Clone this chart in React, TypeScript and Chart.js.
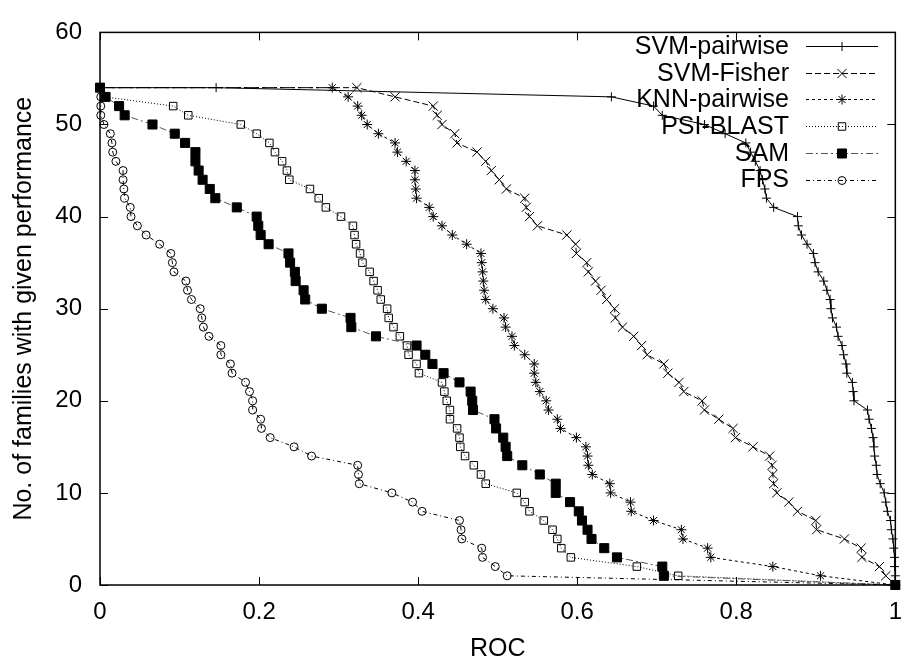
import React, { useEffect, useRef } from "react";
import { Chart, registerables } from "chart.js";

Chart.register(...registerables);

const xTicks = [0, 0.2, 0.4, 0.6, 0.8, 1];
const yTicks = [0, 10, 20, 30, 40, 50, 60];

const seriesNames = ["SVM-pairwise", "SVM-Fisher", "KNN-pairwise", "PSI-BLAST", "SAM", "FPS"];

// number of families (y) for each point
const counts = [54, 54, 53, 52, 51, 50, 49, 48, 47, 46, 45, 44, 43, 42, 41, 40, 39, 38, 37, 36, 35, 34, 33, 32, 31, 30, 29, 28, 27, 26, 25, 24, 23, 22, 21, 20, 19, 18, 17, 16, 15, 14, 13, 12, 11, 10, 9, 8, 7, 6, 5, 4, 3, 2, 1, 0];

// ROC values (x) for each series
const svmPairwise = [0, 0.146, 0.643, 0.696, 0.707, 0.760, 0.786, 0.812, 0.818, 0.824, 0.830, 0.833, 0.836, 0.838, 0.847, 0.877, 0.878, 0.882, 0.889, 0.897, 0.899, 0.903, 0.910, 0.914, 0.918, 0.919, 0.921, 0.926, 0.928, 0.933, 0.935, 0.938, 0.939, 0.946, 0.947, 0.948, 0.965, 0.967, 0.970, 0.972, 0.973, 0.974, 0.976, 0.977, 0.981, 0.986, 0.988, 0.990, 0.994, 0.995, 0.997, 0.998, 0.999, 0.999, 1.0, 1];
const svmFisher = [0, 0.323, 0.371, 0.419, 0.424, 0.430, 0.446, 0.449, 0.474, 0.485, 0.492, 0.502, 0.511, 0.534, 0.536, 0.540, 0.550, 0.587, 0.598, 0.599, 0.612, 0.614, 0.623, 0.630, 0.637, 0.647, 0.648, 0.657, 0.671, 0.681, 0.688, 0.709, 0.714, 0.728, 0.734, 0.757, 0.760, 0.778, 0.796, 0.799, 0.821, 0.842, 0.845, 0.846, 0.847, 0.851, 0.866, 0.877, 0.900, 0.901, 0.936, 0.957, 0.958, 0.980, 0.988, 1];
const knnPairwise = [0, 0.292, 0.312, 0.324, 0.329, 0.336, 0.350, 0.371, 0.374, 0.385, 0.396, 0.396, 0.397, 0.398, 0.414, 0.419, 0.430, 0.443, 0.461, 0.479, 0.480, 0.481, 0.482, 0.483, 0.485, 0.494, 0.508, 0.510, 0.518, 0.521, 0.534, 0.546, 0.546, 0.548, 0.553, 0.561, 0.564, 0.575, 0.579, 0.599, 0.611, 0.613, 0.614, 0.619, 0.641, 0.642, 0.667, 0.668, 0.696, 0.731, 0.733, 0.764, 0.768, 0.846, 0.906, 1];
const psiBlast = [0, 0, 0.006, 0.092, 0.111, 0.177, 0.197, 0.213, 0.220, 0.229, 0.235, 0.238, 0.264, 0.275, 0.284, 0.303, 0.318, 0.320, 0.322, 0.327, 0.330, 0.339, 0.344, 0.349, 0.353, 0.361, 0.363, 0.369, 0.377, 0.386, 0.388, 0.398, 0.401, 0.430, 0.433, 0.436, 0.440, 0.440, 0.449, 0.452, 0.453, 0.459, 0.470, 0.479, 0.485, 0.524, 0.534, 0.540, 0.558, 0.569, 0.575, 0.580, 0.592, 0.675, 0.727, 1];
const sam = [0, 0, 0.007, 0.024, 0.031, 0.066, 0.094, 0.107, 0.120, 0.120, 0.124, 0.129, 0.138, 0.145, 0.172, 0.197, 0.199, 0.202, 0.212, 0.237, 0.239, 0.245, 0.246, 0.256, 0.258, 0.279, 0.315, 0.316, 0.347, 0.398, 0.409, 0.418, 0.432, 0.452, 0.466, 0.468, 0.469, 0.496, 0.498, 0.507, 0.510, 0.512, 0.531, 0.553, 0.573, 0.573, 0.591, 0.602, 0.606, 0.613, 0.618, 0.634, 0.650, 0.707, 0.709, 1];
const fps = [0, 0, 0.001, 0.001, 0.001, 0.005, 0.013, 0.015, 0.016, 0.020, 0.029, 0.029, 0.030, 0.031, 0.038, 0.039, 0.047, 0.058, 0.075, 0.089, 0.091, 0.093, 0.108, 0.110, 0.115, 0.126, 0.128, 0.130, 0.137, 0.152, 0.152, 0.164, 0.166, 0.183, 0.188, 0.192, 0.192, 0.202, 0.203, 0.214, 0.244, 0.266, 0.324, 0.325, 0.326, 0.367, 0.393, 0.405, 0.452, 0.454, 0.455, 0.480, 0.481, 0.497, 0.512, 1];

const seriesValues = [svmPairwise, svmFisher, knnPairwise, psiBlast, sam, fps];

const FONT = "'Liberation Sans', Arial, Helvetica, sans-serif";

type Style = {
  dash: number[];
  line: string;
  point: string;
  radius: number;
  fill: string;
};

const styles: Style[] = [
  { dash: [], line: "#000", point: "cross", radius: 4.5, fill: "rgba(0,0,0,0)" },
  { dash: [6, 3], line: "#000", point: "crossRot", radius: 6.5, fill: "rgba(0,0,0,0)" },
  { dash: [3, 3], line: "#000", point: "star", radius: 5, fill: "rgba(0,0,0,0)" },
  { dash: [1, 2], line: "#000", point: "rect", radius: 5.3, fill: "rgba(0,0,0,0)" },
  { dash: [7, 3, 2, 3], line: "#555", point: "rect", radius: 6.4, fill: "#000" },
  { dash: [4, 3, 1, 3], line: "#000", point: "circle", radius: 4, fill: "rgba(0,0,0,0)" },
];

function drawMarker(ctx: CanvasRenderingContext2D, s: Style, x: number, y: number) {
  const r = s.radius;
  ctx.save();
  ctx.setLineDash([]);
  ctx.strokeStyle = "#000";
  ctx.fillStyle = s.fill;
  ctx.lineWidth = 1;
  ctx.beginPath();
  if (s.point === "cross") {
    ctx.moveTo(x - r, y); ctx.lineTo(x + r, y);
    ctx.moveTo(x, y - r); ctx.lineTo(x, y + r);
    ctx.stroke();
  } else if (s.point === "crossRot") {
    const d = r * Math.SQRT1_2;
    ctx.moveTo(x - d, y - d); ctx.lineTo(x + d, y + d);
    ctx.moveTo(x - d, y + d); ctx.lineTo(x + d, y - d);
    ctx.stroke();
  } else if (s.point === "star") {
    const d = r * Math.SQRT1_2;
    ctx.moveTo(x - r, y); ctx.lineTo(x + r, y);
    ctx.moveTo(x, y - r); ctx.lineTo(x, y + r);
    ctx.moveTo(x - d, y - d); ctx.lineTo(x + d, y + d);
    ctx.moveTo(x - d, y + d); ctx.lineTo(x + d, y - d);
    ctx.stroke();
  } else if (s.point === "rect") {
    const h = r * Math.SQRT1_2;
    ctx.rect(x - h, y - h, 2 * h, 2 * h);
    ctx.fill();
    ctx.stroke();
  } else {
    ctx.arc(x, y, r, 0, Math.PI * 2);
    ctx.fill();
    ctx.stroke();
  }
  ctx.restore();
}

const framePlugin = {
  id: "gnuplotFrame",
  afterDraw(chart: any) {
    const { ctx, chartArea } = chart;
    const { left, right, top, bottom } = chartArea;
    const xs = chart.scales.x;
    const ys = chart.scales.y;
    const tl = 8;
    ctx.save();
    ctx.strokeStyle = "#000";
    ctx.lineWidth = 1;
    ctx.setLineDash([]);
    ctx.beginPath();
    for (const v of xTicks) {
      const px = Math.round(xs.getPixelForValue(v)) + 0.5;
      ctx.moveTo(px, bottom); ctx.lineTo(px, bottom - tl);
      ctx.moveTo(px, top); ctx.lineTo(px, top + tl);
    }
    for (const v of yTicks) {
      const py = Math.round(ys.getPixelForValue(v)) + 0.5;
      ctx.moveTo(left, py); ctx.lineTo(left + tl, py);
      ctx.moveTo(right, py); ctx.lineTo(right - tl, py);
    }
    ctx.stroke();
    ctx.lineWidth = 1.5;
    ctx.strokeRect(left, top, right - left, bottom - top);

    // key (legend), gnuplot style: text right-aligned, sample to the right
    ctx.font = `25px ${FONT}`;
    ctx.fillStyle = "#000";
    ctx.textAlign = "right";
    ctx.textBaseline = "middle";
    chart.data.datasets.forEach((ds: any, i: number) => {
      const s = styles[i];
      const y = 46 + i * 26.7;
      ctx.fillText(ds.label, 789, y + 1);
      ctx.save();
      ctx.strokeStyle = s.line;
      ctx.lineWidth = 1;
      ctx.setLineDash(s.dash);
      ctx.beginPath();
      ctx.moveTo(806, Math.round(y) + 0.5);
      ctx.lineTo(878, Math.round(y) + 0.5);
      ctx.stroke();
      ctx.restore();
      drawMarker(ctx, s, 842, Math.round(y) + 0.5);
    });
    ctx.restore();
  },
};

export default function App() {
  const canvasRef = useRef<HTMLCanvasElement | null>(null);

  useEffect(() => {
    const canvas = canvasRef.current;
    if (!canvas) return;

    const datasets = seriesNames.map((name, i) => {
      const s = styles[i];
      return {
        label: name,
        data: seriesValues[i].map((v, k) => ({ x: v, y: counts[k] })),
        showLine: true,
        borderColor: s.line,
        borderWidth: 1,
        borderDash: s.dash,
        tension: 0,
        pointStyle: s.point,
        pointRadius: (c: any) => (c.dataIndex === 0 ? 0 : s.radius),
        pointBorderColor: "#000",
        pointBackgroundColor: s.fill,
        pointBorderWidth: 1,
        pointHoverRadius: s.radius,
        order: seriesNames.length - 1 - i,
        clip: false as any,
      };
    });

    const tickFont = { family: FONT, size: 24 };
    const titleFont = { family: FONT, size: 25 };

    const chart = new Chart(canvas, {
      type: "scatter",
      data: { datasets },
      options: {
        animation: false,
        responsive: false,
        devicePixelRatio: 1,
        events: [],
        layout: { padding: { top: 24, right: 6, left: 0, bottom: 0 } },
        plugins: {
          legend: { display: false },
          tooltip: { enabled: false },
        },
        scales: {
          x: {
            type: "linear",
            min: 0,
            max: 1,
            afterBuildTicks: (s: any) => {
              s.ticks = xTicks.map((v) => ({ value: v }));
            },
            afterFit: (s: any) => {
              s.height = 79;
            },
            ticks: {
              font: tickFont,
              color: "#000",
              padding: 13,
              maxRotation: 0,
              autoSkip: false,
              callback: (v: any) => String(v),
            },
            grid: { display: false, drawTicks: false },
            border: { display: false },
            title: {
              display: true,
              text: "ROC",
              font: titleFont,
              color: "#000",
              padding: { top: 0, bottom: 0 },
            },
          },
          y: {
            type: "linear",
            min: 0,
            max: 60,
            afterBuildTicks: (s: any) => {
              s.ticks = yTicks.map((v) => ({ value: v }));
            },
            afterFit: (s: any) => {
              s.width = 100;
            },
            ticks: {
              font: tickFont,
              color: "#000",
              padding: 18,
              autoSkip: false,
              callback: (v: any) => String(v),
            },
            grid: { display: false, drawTicks: false },
            border: { display: false },
            title: {
              display: true,
              text: "No. of families with given performance",
              font: titleFont,
              color: "#000",
              padding: { top: 9, bottom: 0 },
            },
          },
        },
      },
      plugins: [framePlugin],
    } as any);

    return () => {
      chart.destroy();
    };
  }, []);

  return (
    <div
      style={{
        position: "fixed",
        left: 0,
        top: 0,
        width: 915,
        height: 664,
        background: "#fff",
      }}
    >
      <canvas ref={canvasRef} width={915} height={664} style={{ width: 915, height: 664, display: "block" }} />
    </div>
  );
}
